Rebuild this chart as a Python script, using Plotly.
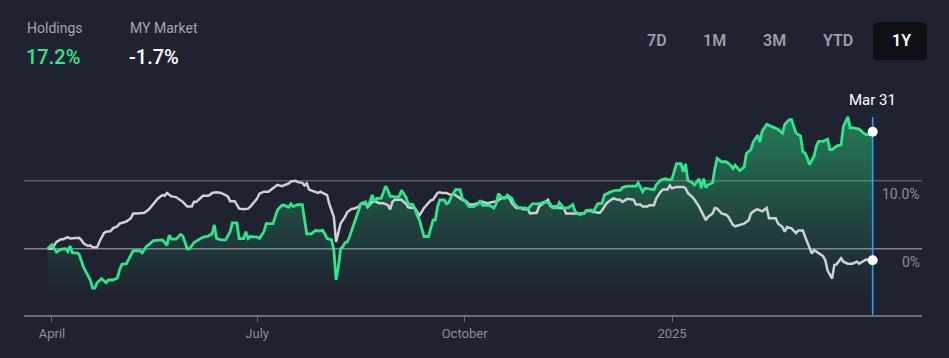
import plotly.graph_objects as go

# ---------------- data ----------------
holdings_dates = [
    "2024-03-30","2024-04-01","2024-04-03","2024-04-05","2024-04-07","2024-04-08","2024-04-09","2024-04-10",
    "2024-04-12","2024-04-13","2024-04-15","2024-04-17","2024-04-18","2024-04-19","2024-04-20","2024-04-21",
    "2024-04-23","2024-04-25","2024-04-26","2024-04-28","2024-04-30","2024-05-01","2024-05-02","2024-05-04",
    "2024-05-06","2024-05-07","2024-05-10","2024-05-11","2024-05-13","2024-05-14","2024-05-16","2024-05-19",
    "2024-05-20","2024-05-22","2024-05-23","2024-05-24","2024-05-26","2024-05-28","2024-05-29","2024-05-31",
    "2024-06-01","2024-06-03","2024-06-05","2024-06-07","2024-06-09","2024-06-11","2024-06-12","2024-06-13",
    "2024-06-15","2024-06-17","2024-06-19","2024-06-20","2024-06-22","2024-06-23","2024-06-25","2024-06-26",
    "2024-06-27","2024-06-28","2024-07-01","2024-07-02","2024-07-04","2024-07-05","2024-07-08","2024-07-09",
    "2024-07-10","2024-07-12","2024-07-13","2024-07-15","2024-07-16","2024-07-17","2024-07-19","2024-07-21",
    "2024-07-22","2024-07-23","2024-07-25","2024-07-27","2024-07-28","2024-07-30","2024-07-31","2024-08-01",
    "2024-08-03","2024-08-04","2024-08-05","2024-08-06","2024-08-07","2024-08-08","2024-08-09","2024-08-10",
    "2024-08-11","2024-08-12","2024-08-14","2024-08-15","2024-08-16","2024-08-18","2024-08-19","2024-08-20",
    "2024-08-21","2024-08-22","2024-08-23","2024-08-25","2024-08-27","2024-08-28","2024-08-29","2024-08-30",
    "2024-09-01","2024-09-02","2024-09-03","2024-09-05","2024-09-06","2024-09-08","2024-09-09","2024-09-10",
    "2024-09-11","2024-09-12","2024-09-13","2024-09-15","2024-09-16","2024-09-17","2024-09-18","2024-09-19",
    "2024-09-20","2024-09-22","2024-09-23","2024-09-24","2024-09-25","2024-09-27","2024-09-29","2024-09-30",
    "2024-10-01","2024-10-03","2024-10-05","2024-10-07","2024-10-08","2024-10-09","2024-10-12","2024-10-14",
    "2024-10-15","2024-10-16","2024-10-18","2024-10-19","2024-10-20","2024-10-22","2024-10-23","2024-10-25",
    "2024-10-28","2024-10-29","2024-10-31","2024-11-03","2024-11-06","2024-11-08","2024-11-09","2024-11-11",
    "2024-11-12","2024-11-14","2024-11-16","2024-11-18","2024-11-19","2024-11-20","2024-11-21","2024-11-23",
    "2024-11-24","2024-11-26","2024-11-27","2024-11-29","2024-12-01","2024-12-02","2024-12-05","2024-12-07",
    "2024-12-09","2024-12-10","2024-12-12","2024-12-14","2024-12-16","2024-12-17","2024-12-19","2024-12-20",
    "2024-12-22","2024-12-24","2024-12-25","2024-12-27","2024-12-29","2024-12-31","2025-01-01","2025-01-02",
    "2025-01-03","2025-01-05","2025-01-06","2025-01-07","2025-01-08","2025-01-10","2025-01-11","2025-01-13",
    "2025-01-14","2025-01-15","2025-01-16","2025-01-17","2025-01-19","2025-01-20","2025-01-21","2025-01-23",
    "2025-01-25","2025-01-27","2025-01-28","2025-01-29","2025-01-31","2025-02-02","2025-02-03","2025-02-05",
    "2025-02-06","2025-02-08","2025-02-09","2025-02-10","2025-02-12","2025-02-14","2025-02-17","2025-02-19",
    "2025-02-20","2025-02-22","2025-02-23","2025-02-25","2025-02-27","2025-02-28","2025-03-01","2025-03-02",
    "2025-03-03","2025-03-05","2025-03-06","2025-03-07","2025-03-09","2025-03-11","2025-03-12","2025-03-13",
    "2025-03-15","2025-03-17","2025-03-18","2025-03-20","2025-03-21","2025-03-22","2025-03-24","2025-03-25",
    "2025-03-27","2025-03-28","2025-03-30","2025-03-31",
]
holdings_pct = [
    0.0, 0.6, -0.5, -0.1, 0.0, -0.4, 0.4, -0.6,
    -0.6, -0.8, -2.7, -4.1, -4.6, -5.8, -5.8, -5.0,
    -4.4, -5.0, -4.6, -4.6, -4.3, -3.1, -2.3, -2.2,
    -0.9, -0.3, -0.3, -0.6, 0.4, 0.6, 1.2, 1.2,
    1.3, 0.5, 2.0, 1.4, 1.4, 2.1, 1.9, 0.0,
    0.0, 0.9, 1.3, 1.7, 1.8, 2.2, 3.5, 1.5,
    1.3, 1.3, 2.5, 3.8, 3.8, 1.5, 1.5, 2.5,
    1.5, 1.8, 1.7, 1.5, 2.5, 3.7, 3.7, 4.7,
    5.7, 6.4, 6.4, 6.1, 6.6, 6.2, 6.5, 6.5,
    4.2, 2.2, 2.2, 2.7, 2.6, 2.7, 2.2, 1.5,
    1.3, -0.2, -4.6, -2.7, 0.0, 0.3, 0.9, 1.0,
    1.8, 2.7, 4.7, 5.7, 6.6, 6.9, 6.2, 6.9,
    7.9, 6.9, 7.4, 7.4, 9.2, 8.6, 7.7, 7.7,
    7.6, 7.7, 8.6, 7.6, 6.6, 6.5, 5.9, 4.9,
    4.2, 3.0, 1.8, 1.8, 3.0, 4.2, 4.2, 6.2,
    7.2, 7.2, 6.6, 6.8, 7.6, 8.7, 8.7, 7.4,
    7.1, 6.2, 6.2, 6.6, 7.1, 6.4, 6.4, 6.0,
    6.6, 8.1, 7.4, 7.4, 7.9, 7.4, 6.6, 6.0,
    6.0, 5.8, 6.6, 6.6, 6.9, 6.6, 6.0, 6.0,
    6.8, 6.0, 6.0, 6.5, 5.5, 5.2, 5.0, 5.2,
    5.6, 5.7, 5.4, 6.6, 6.7, 7.9, 8.4, 8.6,
    8.6, 9.0, 9.2, 9.2, 9.2, 9.7, 8.4, 8.9,
    8.8, 8.7, 9.4, 10.1, 10.3, 10.1, 10.3, 11.3,
    12.5, 12.5, 11.3, 12.5, 10.1, 9.7, 9.4, 10.3,
    8.9, 10.3, 9.0, 9.4, 9.7, 11.8, 13.3, 12.8,
    12.8, 12.3, 11.8, 12.3, 11.5, 12.0, 14.0, 14.6,
    15.7, 16.7, 15.7, 17.3, 18.3, 18.0, 17.6, 17.0,
    18.3, 19.0, 19.0, 17.0, 16.6, 14.3, 14.1, 13.3,
    12.4, 13.6, 15.1, 15.8, 15.8, 16.1, 14.6, 14.6,
    15.1, 15.3, 18.0, 19.4, 17.8, 17.8, 17.6, 17.6,
    17.0, 16.8, 16.8, 17.2,
]

market_dates = [
    "2024-03-30","2024-04-01","2024-04-03","2024-04-05","2024-04-06","2024-04-08","2024-04-09","2024-04-10",
    "2024-04-13","2024-04-14","2024-04-15","2024-04-17","2024-04-18","2024-04-19","2024-04-21","2024-04-22",
    "2024-04-24","2024-04-25","2024-04-27","2024-04-28","2024-04-30","2024-05-01","2024-05-02","2024-05-04",
    "2024-05-06","2024-05-07","2024-05-09","2024-05-11","2024-05-12","2024-05-14","2024-05-15","2024-05-17",
    "2024-05-18","2024-05-20","2024-05-21","2024-05-22","2024-05-24","2024-05-26","2024-05-28","2024-05-29",
    "2024-05-31","2024-06-02","2024-06-03","2024-06-04","2024-06-06","2024-06-07","2024-06-09","2024-06-10",
    "2024-06-11","2024-06-13","2024-06-15","2024-06-17","2024-06-18","2024-06-19","2024-06-21","2024-06-22",
    "2024-06-23","2024-06-25","2024-06-27","2024-06-28","2024-06-29","2024-07-01","2024-07-02","2024-07-04",
    "2024-07-06","2024-07-08","2024-07-10","2024-07-12","2024-07-13","2024-07-15","2024-07-16","2024-07-18",
    "2024-07-19","2024-07-21","2024-07-22","2024-07-23","2024-07-24","2024-07-26","2024-07-28","2024-07-29",
    "2024-07-30","2024-08-01","2024-08-02","2024-08-03","2024-08-04","2024-08-05","2024-08-06","2024-08-07",
    "2024-08-08","2024-08-09","2024-08-10","2024-08-12","2024-08-13","2024-08-15","2024-08-16","2024-08-18",
    "2024-08-19","2024-08-20","2024-08-21","2024-08-23","2024-08-24","2024-08-26","2024-08-28","2024-08-29",
    "2024-08-30","2024-08-31","2024-09-01","2024-09-03","2024-09-05","2024-09-06","2024-09-08","2024-09-09",
    "2024-09-10","2024-09-11","2024-09-13","2024-09-14","2024-09-16","2024-09-17","2024-09-19","2024-09-20",
    "2024-09-21","2024-09-23","2024-09-25","2024-09-26","2024-09-28","2024-09-29","2024-09-30","2024-10-02",
    "2024-10-03","2024-10-05","2024-10-07","2024-10-08","2024-10-09","2024-10-11","2024-10-12","2024-10-14",
    "2024-10-15","2024-10-17","2024-10-18","2024-10-20","2024-10-21","2024-10-22","2024-10-24","2024-10-26",
    "2024-10-27","2024-10-29","2024-10-30","2024-10-31","2024-11-02","2024-11-03","2024-11-05","2024-11-07",
    "2024-11-08","2024-11-09","2024-11-11","2024-11-12","2024-11-14","2024-11-15","2024-11-17","2024-11-18",
    "2024-11-20","2024-11-21","2024-11-23","2024-11-24","2024-11-26","2024-11-27","2024-11-29","2024-11-30",
    "2024-12-01","2024-12-03","2024-12-05","2024-12-06","2024-12-08","2024-12-09","2024-12-10","2024-12-12",
    "2024-12-13","2024-12-15","2024-12-16","2024-12-18","2024-12-19","2024-12-21","2024-12-22","2024-12-24",
    "2024-12-25","2024-12-27","2024-12-28","2024-12-30","2024-12-31","2025-01-01","2025-01-03","2025-01-05",
    "2025-01-06","2025-01-07","2025-01-08","2025-01-10","2025-01-11","2025-01-13","2025-01-14","2025-01-16",
    "2025-01-17","2025-01-19","2025-01-20","2025-01-21","2025-01-23","2025-01-25","2025-01-26","2025-01-28",
    "2025-01-29","2025-01-30","2025-02-01","2025-02-02","2025-02-04","2025-02-05","2025-02-07","2025-02-08",
    "2025-02-10","2025-02-12","2025-02-13","2025-02-16","2025-02-17","2025-02-19","2025-02-20","2025-02-21",
    "2025-02-23","2025-02-25","2025-02-26","2025-02-28","2025-03-01","2025-03-02","2025-03-04","2025-03-05",
    "2025-03-07","2025-03-09","2025-03-10","2025-03-11","2025-03-13","2025-03-14","2025-03-15","2025-03-17",
    "2025-03-18","2025-03-20","2025-03-21","2025-03-22","2025-03-24","2025-03-25","2025-03-27","2025-03-28",
    "2025-03-30","2025-03-31",
]
market_pct = [
    0.0, 0.0, 1.0, 1.4, 1.4, 1.7, 1.5, 1.5,
    1.6, 1.3, 0.8, 0.4, 0.5, 0.2, 0.2, 1.0,
    2.3, 2.5, 2.6, 3.0, 3.3, 3.7, 3.8, 4.0,
    4.5, 5.2, 5.2, 5.2, 5.3, 5.8, 6.2, 7.1,
    7.4, 7.9, 7.8, 8.2, 7.7, 7.6, 7.1, 6.9,
    6.2, 6.2, 6.9, 6.9, 7.5, 7.8, 7.8, 7.9,
    8.2, 8.3, 8.2, 7.9, 7.7, 7.0, 7.0, 6.5,
    5.9, 5.8, 5.9, 6.2, 6.6, 7.4, 8.1, 8.4,
    8.4, 8.9, 9.4, 9.2, 9.3, 9.6, 9.9, 10.0,
    9.8, 9.7, 9.3, 9.6, 8.7, 8.4, 8.2, 8.4,
    8.2, 7.9, 6.6, 5.7, 4.7, 1.0, 2.3, 3.7,
    4.2, 4.7, 5.4, 5.9, 5.9, 6.2, 6.6, 6.6,
    6.1, 6.6, 6.9, 6.9, 6.7, 6.7, 6.4, 5.8,
    6.9, 7.2, 7.2, 7.2, 6.6, 6.1, 6.0, 5.9,
    5.4, 4.9, 6.0, 6.4, 7.1, 7.2, 8.2, 8.3,
    8.2, 8.2, 7.9, 8.1, 7.6, 7.4, 7.2, 6.9,
    6.5, 6.5, 6.7, 6.7, 6.9, 6.7, 6.8, 6.9,
    6.9, 7.4, 7.5, 7.6, 7.4, 6.7, 6.0, 6.0,
    5.8, 5.8, 5.2, 5.2, 5.3, 6.2, 6.7, 7.2,
    6.3, 6.2, 6.2, 6.0, 6.0, 5.2, 5.2, 5.2,
    5.1, 5.1, 5.2, 5.6, 5.6, 5.5, 5.3, 5.3,
    5.7, 6.7, 7.2, 7.4, 7.2, 7.2, 6.9, 7.3,
    7.3, 7.2, 6.5, 6.5, 6.2, 6.2, 6.4, 6.4,
    7.4, 8.4, 8.7, 8.7, 9.3, 8.9, 9.1, 9.1,
    9.1, 8.9, 8.2, 7.6, 7.2, 6.2, 5.5, 4.2,
    4.7, 5.2, 6.0, 5.9, 5.2, 5.0, 4.7, 3.5,
    3.3, 3.4, 3.7, 3.7, 4.2, 5.2, 5.7, 5.8,
    5.5, 6.0, 4.5, 4.5, 3.7, 3.2, 2.5, 3.2,
    3.0, 2.3, 2.7, 2.7, 1.8, 1.0, -0.7, -0.2,
    -0.7, -1.1, -1.7, -3.2, -4.4, -2.4, -2.3, -1.4,
    -1.9, -2.2, -2.2, -2.2, -1.9, -2.2, -1.8, -1.6,
    -1.7, -1.7,
]

x_tick_vals = ["2024-04-01", "2024-07-01", "2024-10-01", "2025-01-01"]
x_tick_text = ["April", "July", "October", "2025"]
y_grid_vals = [0, 10]
y_grid_text = ["0%", "10.0%"]
header_labels = ["Holdings", "MY Market"]
header_values = ["17.2%", "-1.7%"]
range_buttons = ["7D", "1M", "3M", "YTD", "1Y"]
cursor_label = "Mar 31"

# ---------------- style / layout constants ----------------
W, H = 949, 358
ML, MR, MT, MB = 24, 27, 89, 43
Y_MIN, Y_MAX = -9.75, 23.5
X_RANGE = ["2024-03-19 14:00", "2025-04-21 21:00"]
BG = "#1f2331"
GREEN = "#2be986"
GREY_LINE = "#cfcfd4"
AXIS_GREY = "#6c6f79"
LABEL_GREY = "#8c8f98"
FONT = "Roboto, Inter, sans-serif"

PW = W - ML - MR
PH = H - MT - MB


def px_x(p):
    return (p - ML) / PW


def px_y(p):
    return (H - MB - p) / PH


fig = go.Figure()

# baseline for the gradient fill
fig.add_trace(go.Scatter(
    x=holdings_dates, y=[Y_MIN] * len(holdings_dates), mode="lines",
    line=dict(width=0), hoverinfo="skip", showlegend=False,
))
fig.add_trace(go.Scatter(
    x=holdings_dates, y=holdings_pct, mode="lines", line=dict(width=0),
    fill="tonexty",
    fillgradient=dict(
        type="vertical",
        start=-7, stop=19,
        colorscale=[[0, "rgba(43,233,134,0.0)"], [0.35, "rgba(43,233,134,0.13)"], [1, "rgba(43,233,134,0.44)"]],
    ),
    hoverinfo="skip", showlegend=False,
))
fig.add_trace(go.Scatter(
    x=market_dates, y=market_pct, mode="lines",
    line=dict(color=GREY_LINE, width=2.5), hoverinfo="skip", showlegend=False,
))
fig.add_trace(go.Scatter(
    x=holdings_dates, y=holdings_pct, mode="lines",
    line=dict(color=GREEN, width=2.8), hoverinfo="skip", showlegend=False,
))
# cursor line (as a trace so the end dots sit on top of it)
cursor_top = Y_MIN + (Y_MAX - Y_MIN) * px_y(117)
fig.add_trace(go.Scatter(
    x=[holdings_dates[-1], holdings_dates[-1]], y=[Y_MIN, cursor_top], mode="lines",
    line=dict(color="#2e9ef0", width=1.6), hoverinfo="skip", showlegend=False, cliponaxis=False,
))
fig.add_trace(go.Scatter(
    x=[holdings_dates[-1], market_dates[-1]], y=[holdings_pct[-1], market_pct[-1]],
    mode="markers", marker=dict(color="white", size=10, line=dict(width=0)),
    hoverinfo="skip", showlegend=False,
))

shapes = []
grid_colors = {0: "rgba(160,162,170,0.75)", 10: "rgba(140,142,150,0.55)"}
for v in y_grid_vals:
    shapes.append(dict(type="line", xref="paper", x0=0, x1=1, yref="y", y0=v, y1=v,
                       line=dict(color=grid_colors[v], width=1.6), layer="below"))
# 1Y selected button box
bx0, bx1, by0, by1 = px_x(873), px_x(927), px_y(60), px_y(22)
rx, ry = 5 / PW, 5 / PH
path = (f"M {bx0+rx},{by0} L {bx1-rx},{by0} Q {bx1},{by0} {bx1},{by0+ry} "
        f"L {bx1},{by1-ry} Q {bx1},{by1} {bx1-rx},{by1} L {bx0+rx},{by1} "
        f"Q {bx0},{by1} {bx0},{by1-ry} L {bx0},{by0+ry} Q {bx0},{by0} {bx0+rx},{by0} Z")
shapes.append(dict(type="path", xref="paper", yref="paper", path=path,
                   fillcolor="#0e1016", line=dict(width=0), layer="above"))

ann = []
# header
for lbl, val, xp, vcol in zip(header_labels, header_values, [25, 128], [GREEN, "#ffffff"]):
    ann.append(dict(text=lbl, xref="paper", yref="paper", x=px_x(xp), y=px_y(28),
                    xanchor="left", yanchor="middle", showarrow=False,
                    font=dict(family=FONT, size=14, color="#a3a6ae")))
    ann.append(dict(text=val, xref="paper", yref="paper", x=px_x(xp - 1), y=px_y(57),
                    xanchor="left", yanchor="middle", showarrow=False,
                    font=dict(family=FONT, size=20, color=vcol, weight=500)))
# range buttons
for b, cx in zip(range_buttons, [657, 714, 774, 838, 901]):
    ann.append(dict(text=b, xref="paper", yref="paper", x=px_x(cx), y=px_y(41),
                    xanchor="center", yanchor="middle", showarrow=False,
                    font=dict(family=FONT, size=16, color="#ffffff" if b == "1Y" else "#9c9fa7", weight=600)))
# y labels (below their grid lines, right aligned)
for v, t in zip(y_grid_vals, y_grid_text):
    ann.append(dict(text=t, xref="paper", yref="y", x=1, y=v, yshift=-13,
                    xanchor="right", yanchor="middle", showarrow=False,
                    font=dict(family=FONT, size=14, color=LABEL_GREY)))
# cursor label
ann.append(dict(text=cursor_label, xref="x", yref="paper", x=holdings_dates[-1], y=px_y(100),
                xanchor="center", yanchor="middle", showarrow=False,
                font=dict(family=FONT, size=15, color="#ffffff")))

fig.update_layout(
    width=W, height=H,
    margin=dict(l=ML, r=MR, t=MT, b=MB, pad=0),
    paper_bgcolor=BG, plot_bgcolor=BG,
    showlegend=False,
    shapes=shapes, annotations=ann,
    xaxis=dict(
        type="date", range=X_RANGE, showgrid=False, zeroline=False,
        showline=True, linecolor=AXIS_GREY, linewidth=2,
        ticks="outside", ticklen=5, tickwidth=1, tickcolor=AXIS_GREY,
        tickvals=x_tick_vals, ticktext=x_tick_text,
        tickfont=dict(family=FONT, size=13, color=LABEL_GREY),
        fixedrange=True,
    ),
    yaxis=dict(range=[Y_MIN, Y_MAX], visible=False, fixedrange=True),
)

page_fix = (
    "document.documentElement.style.margin='0';"
    "document.body.style.margin='0';document.body.style.padding='0';"
    "document.body.style.overflow='hidden';"
    f"document.body.style.background='{BG}';"
)
fig.write_html("out.html", post_script=page_fix, config={"displayModeBar": False})
